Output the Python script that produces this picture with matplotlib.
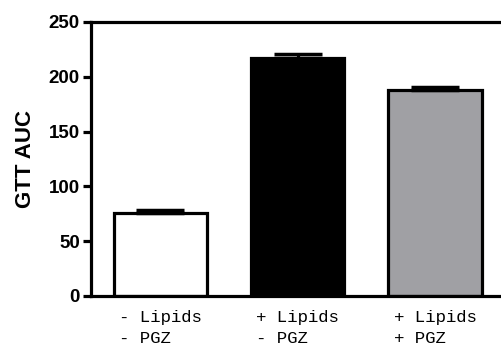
import numpy as np
import matplotlib.pyplot as plt

# Datos
groups = ['- Lipids\n- PGZ', '+ Lipids\n- PGZ', '+ Lipids\n+ PGZ']
auc = [76, 217, 188]
sem = [2.5, 3.5, 3.0]
colors = ['white', 'black', '#a0a0a4']

fig = plt.figure(figsize=(5.01, 3.46), dpi=100)
ax = fig.add_axes([91/501, 50/346, 410/501, 274/346])

x = np.arange(len(groups))
ax.bar(x, auc, width=0.68, color=colors, edgecolor='black', linewidth=2.3, zorder=2)
ax.errorbar(x, auc, yerr=[np.zeros(3), sem], fmt='none', ecolor='black',
            elinewidth=2.3, capsize=17.5, capthick=2.5, zorder=3)

ax.set_xlim(-0.506, 2.48)
ax.set_ylim(0, 250)
ax.set_yticks([0, 50, 100, 150, 200, 250])
ax.set_xticks(x)
ax.set_xticklabels(groups, family='Liberation Mono', fontsize=12.5,
                   multialignment='left', linespacing=1.5)
ax.tick_params(axis='x', length=0, pad=10)
ax.tick_params(axis='y', length=6, width=2.3, direction='out', pad=2)
for lab in ax.get_yticklabels():
    lab.set_family('Liberation Sans')
    lab.set_fontweight('bold')
    lab.set_fontsize(13.5)

ax.set_ylabel('GTT AUC', family='Liberation Sans', fontweight='bold', fontsize=16, labelpad=9)

for s in ['left', 'bottom', 'top']:
    ax.spines[s].set_linewidth(2.3)
    ax.spines[s].set_color('black')
ax.spines['right'].set_visible(False)

fig.savefig('out.png', dpi=100)
